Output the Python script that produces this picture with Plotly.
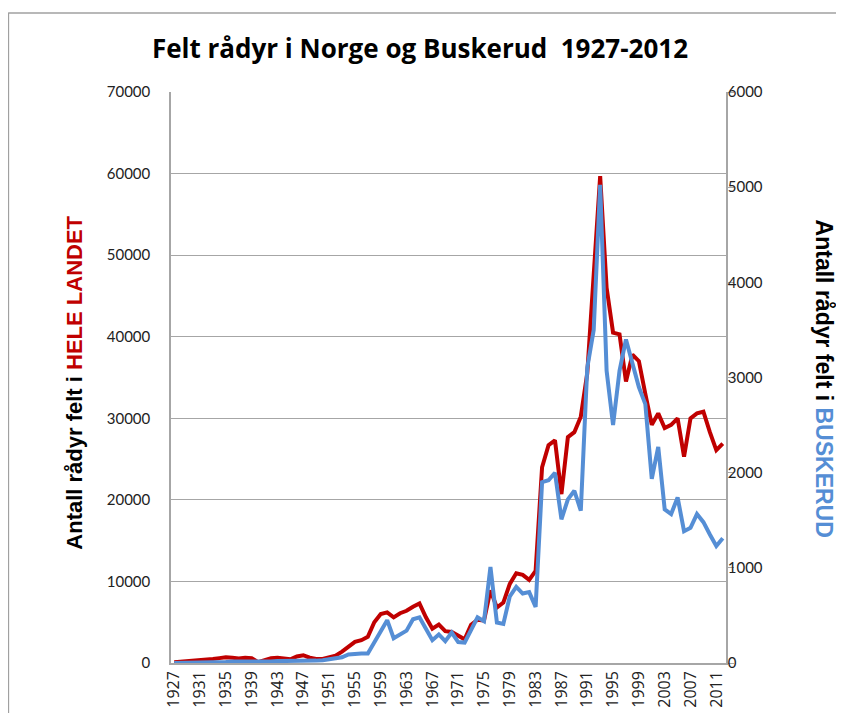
import plotly.graph_objects as go

years = list(range(1927, 2013))

# Felt rådyr i hele landet (left axis)
norge = [
    100, 150, 300, 350, 300, 400, 500, 600, 700, 650,      # 1927-1936
    550, 650, 600, 100, 350, 600, 650, 600, 450, 800,      # 1937-1946
    950, 650, 500, 500, 700, 900, 1400, 2000, 2600, 2800,  # 1947-1956
    3200, 5000, 6000, 6200, 5600, 6100, 6400, 6900, 7300, 5600,  # 1957-1966
    4200, 4700, 3900, 3800, 3300, 2900, 4700, 5300, 5200, 8900,  # 1967-1976
    6800, 7400, 9700, 11000, 10800, 10200, 11300, 24000, 26700, 27300,  # 1977-1986
    20700, 27700, 28300, 30200, 35500, 48500, 59700, 46000, 40500, 40300,  # 1987-1996
    34500, 37800, 37000, 33000, 29200, 30600, 28800, 29200, 30000, 25300,  # 1997-2006
    30000, 30600, 30800, 28300, 26100, 26900,  # 2007-2012
]

# Felt rådyr i Buskerud (right axis)
buskerud = [
    0, 0, 0, 0, 5, 5, 10, 10, 10, 15,                 # 1927-1936
    15, 15, 10, 5, 10, 15, 20, 20, 15, 20,            # 1937-1946
    25, 25, 25, 30, 40, 50, 60, 90, 100, 100,         # 1947-1956
    100, 220, 340, 450, 260, 300, 340, 460, 480, 360, # 1957-1966
    240, 300, 230, 320, 220, 215, 340, 480, 440, 1010,  # 1967-1976
    425, 410, 700, 800, 730, 745, 590, 1900, 1920, 2000,  # 1977-1986
    1510, 1720, 1810, 1600, 3100, 3500, 5025, 3070, 2500, 3070,  # 1987-1996
    3400, 3150, 2900, 2720, 1935, 2270, 1615, 1565, 1740, 1385,  # 1997-2006
    1420, 1565, 1480, 1350, 1230, 1310,  # 2007-2012
]

left_ticks = [0, 10000, 20000, 30000, 40000, 50000, 60000, 70000]
right_ticks = [0, 1000, 2000, 3000, 4000, 5000, 6000]
x_ticks = list(range(1927, 2012, 4))

assert len(norge) == len(years) and len(buskerud) == len(years)

RED = "#C00000"
BLUE = "#558ED5"
GRID = "#A6A6A6"
FONT = "Lato, 'Open Sans', sans-serif"
ARIAL = "'Liberation Sans', Arial, sans-serif"

# the page body adds an 8px margin; size the figure so the plot lands where the reference has it
W, H = 836, 705

fig = go.Figure()
fig.add_trace(go.Scatter(x=years, y=norge, mode="lines", name="Hele landet",
                         line=dict(color=RED, width=4), yaxis="y"))
fig.add_trace(go.Scatter(x=years, y=buskerud, mode="lines", name="Buskerud",
                         line=dict(color=BLUE, width=4), yaxis="y2"))

fig.update_layout(
    width=W, height=H,
    margin=dict(l=163, r=118, t=84, b=50, autoexpand=False),
    paper_bgcolor="white", plot_bgcolor="white",
    showlegend=False,
    font=dict(family=FONT, color="#222222", size=15),
    title=dict(text="<b>Felt rådyr i Norge og Buskerud  1927-2012</b>",
               x=412 / W, xanchor="center", y=1 - 41 / H, yanchor="middle",
               font=dict(family="'Open Sans', sans-serif", size=26, color="black")),
    xaxis=dict(range=[1926.5, 2012.5], tickmode="array", tickvals=x_ticks,
               ticktext=[str(t) for t in x_ticks], tickangle=-90,
               showgrid=False, showline=True, linecolor=GRID, linewidth=1.5,
               ticks="", tickfont=dict(family="'Open Sans', sans-serif", size=16, color="#222222"),
               zeroline=False),
    yaxis=dict(range=[0, 70000], tickmode="array", tickvals=left_ticks,
               ticktext=[str(t) for t in left_ticks],
               showgrid=True, gridcolor=GRID, gridwidth=1.2,
               showline=True, linecolor=GRID, linewidth=1.5,
               ticks="", ticklabelstandoff=16, zeroline=False),
    yaxis2=dict(range=[0, 6000], tickmode="array", tickvals=right_ticks,
                ticktext=[str(t) for t in right_ticks],
                overlaying="y", side="right", showgrid=False,
                showline=True, linecolor=GRID, linewidth=1.5,
                ticks="outside", ticklen=6, tickcolor=GRID,
                ticklabelstandoff=-9, zeroline=False),
)

# axis titles (two-colour)
fig.add_annotation(
    text="<b>Antall rådyr felt i <span style='color:%s'>HELE LANDET</span></b>" % RED,
    xref="paper", yref="paper", x=(75 - 171) / 547, y=(655 - 379) / 563, textangle=-90,
    showarrow=False, font=dict(family=ARIAL, size=22, color="black"),
    xanchor="center", yanchor="middle")
fig.add_annotation(
    text="<b>Antall rådyr felt i <span style='color:%s'>BUSKERUD</span></b>" % BLUE,
    xref="paper", yref="paper", x=(815 - 171) / 547, y=(655 - 375) / 563, textangle=90,
    showarrow=False, font=dict(family=ARIAL, size=23, color="black"),
    xanchor="center", yanchor="middle")

# outer chart-area frame (top and left edges visible)
fx0 = (10.5 - 171) / 547
fy0 = (655 - 14) / 563
fig.add_shape(type="line", xref="paper", yref="paper", x0=fx0, x1=1.4, y0=fy0, y1=fy0,
              line=dict(color="#A0A0A0", width=1.5))
fig.add_shape(type="line", xref="paper", yref="paper", x0=fx0, x1=fx0, y0=fy0, y1=-0.1,
              line=dict(color="#A0A0A0", width=2))

fig.write_html("out.html")
